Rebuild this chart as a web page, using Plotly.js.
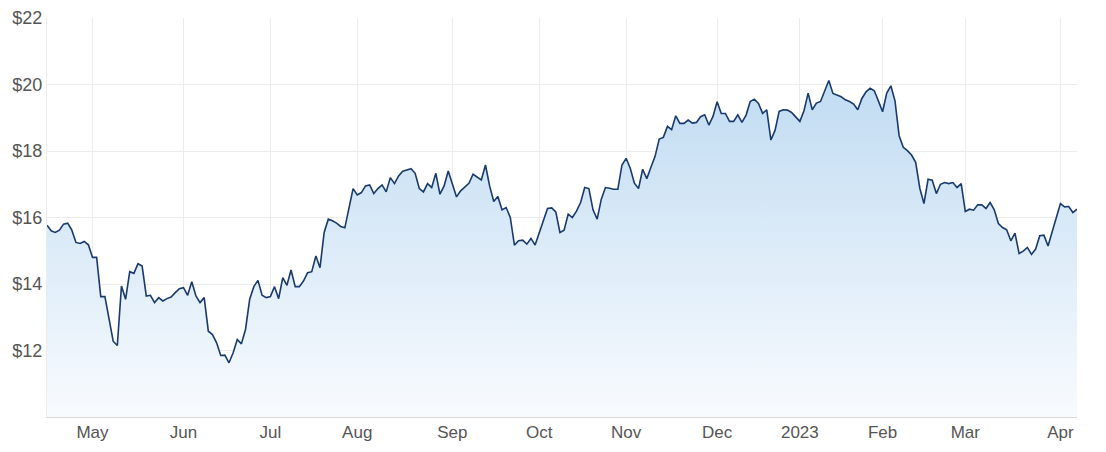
<!DOCTYPE html>
<html>
<head>
<meta charset="utf-8">
<script src="https://cdn.plot.ly/plotly-3.0.1.min.js"></script>
<style>
  html, body { margin: 0; padding: 0; background: #ffffff; }
  #chart { width: 1106px; height: 452px; }
</style>
</head>
<body>
<div id="chart"></div>
<script>
// Trading days (ASX), Apr 2022 - Apr 2023
const dates = [
  '2022-04-12','2022-04-13','2022-04-14','2022-04-19','2022-04-20','2022-04-21','2022-04-22','2022-04-26','2022-04-27','2022-04-28','2022-04-29',
  '2022-05-02','2022-05-03','2022-05-04','2022-05-05','2022-05-06','2022-05-09','2022-05-10','2022-05-11','2022-05-12','2022-05-13','2022-05-16','2022-05-17','2022-05-18','2022-05-19','2022-05-20','2022-05-23','2022-05-24','2022-05-25','2022-05-26','2022-05-27','2022-05-30','2022-05-31',
  '2022-06-01','2022-06-02','2022-06-03','2022-06-06','2022-06-07','2022-06-08','2022-06-09','2022-06-10','2022-06-14','2022-06-15','2022-06-16','2022-06-17','2022-06-20','2022-06-21','2022-06-22','2022-06-23','2022-06-24','2022-06-27','2022-06-28','2022-06-29','2022-06-30',
  '2022-07-01','2022-07-04','2022-07-05','2022-07-06','2022-07-07','2022-07-08','2022-07-11','2022-07-12','2022-07-13','2022-07-14','2022-07-15','2022-07-18','2022-07-19','2022-07-20','2022-07-21','2022-07-22','2022-07-25','2022-07-26','2022-07-27','2022-07-28','2022-07-29',
  '2022-08-01','2022-08-02','2022-08-03','2022-08-04','2022-08-05','2022-08-08','2022-08-09','2022-08-10','2022-08-11','2022-08-12','2022-08-15','2022-08-16','2022-08-17','2022-08-18','2022-08-19','2022-08-22','2022-08-23','2022-08-24','2022-08-25','2022-08-26','2022-08-29','2022-08-30','2022-08-31',
  '2022-09-01','2022-09-02','2022-09-05','2022-09-06','2022-09-07','2022-09-08','2022-09-09','2022-09-12','2022-09-13','2022-09-14','2022-09-15','2022-09-16','2022-09-19','2022-09-20','2022-09-21','2022-09-23','2022-09-26','2022-09-27','2022-09-28','2022-09-29','2022-09-30',
  '2022-10-03','2022-10-04','2022-10-05','2022-10-06','2022-10-07','2022-10-10','2022-10-11','2022-10-12','2022-10-13','2022-10-14','2022-10-17','2022-10-18','2022-10-19','2022-10-20','2022-10-21','2022-10-24','2022-10-25','2022-10-26','2022-10-27','2022-10-28','2022-10-31',
  '2022-11-01','2022-11-02','2022-11-03','2022-11-04','2022-11-07','2022-11-08','2022-11-09','2022-11-10','2022-11-11','2022-11-14','2022-11-15','2022-11-16','2022-11-17','2022-11-18','2022-11-21','2022-11-22','2022-11-23','2022-11-24','2022-11-25','2022-11-28','2022-11-29','2022-11-30',
  '2022-12-01','2022-12-02','2022-12-05','2022-12-06','2022-12-07','2022-12-08','2022-12-09','2022-12-12','2022-12-13','2022-12-14','2022-12-15','2022-12-16','2022-12-19','2022-12-20','2022-12-21','2022-12-22','2022-12-23','2022-12-28','2022-12-29','2022-12-30',
  '2023-01-03','2023-01-04','2023-01-05','2023-01-06','2023-01-09','2023-01-10','2023-01-11','2023-01-12','2023-01-13','2023-01-16','2023-01-17','2023-01-18','2023-01-19','2023-01-20','2023-01-23','2023-01-24','2023-01-25','2023-01-27','2023-01-30','2023-01-31',
  '2023-02-01','2023-02-02','2023-02-03','2023-02-06','2023-02-07','2023-02-08','2023-02-09','2023-02-10','2023-02-13','2023-02-14','2023-02-15','2023-02-16','2023-02-17','2023-02-20','2023-02-21','2023-02-22','2023-02-23','2023-02-24','2023-02-27','2023-02-28',
  '2023-03-01','2023-03-02','2023-03-03','2023-03-06','2023-03-07','2023-03-08','2023-03-09','2023-03-10','2023-03-13','2023-03-14','2023-03-15','2023-03-16','2023-03-17','2023-03-20','2023-03-21','2023-03-22','2023-03-23','2023-03-24','2023-03-27','2023-03-28','2023-03-29','2023-03-30','2023-03-31',
  '2023-04-03','2023-04-04','2023-04-05','2023-04-06','2023-04-11'
];

const prices = [
  15.77,15.60,15.55,15.62,15.80,15.83,15.62,15.25,15.22,15.28,15.18,
  14.80,14.80,13.62,13.62,12.94,12.28,12.15,13.94,13.54,14.37,14.32,14.61,14.54,13.64,13.66,13.44,13.59,13.49,13.56,13.61,13.74,13.86,
  13.89,13.66,14.07,13.64,13.44,13.59,12.58,12.48,12.23,11.85,11.86,11.63,11.93,12.33,12.20,12.64,13.54,13.92,14.11,13.66,13.59,
  13.62,13.92,13.56,14.19,13.96,14.42,13.92,13.92,14.09,14.34,14.37,14.84,14.49,15.55,15.95,15.90,15.83,15.73,15.69,16.28,16.87,
  16.68,16.75,16.95,16.98,16.72,16.87,16.98,16.77,17.20,17.02,17.25,17.39,17.43,17.47,17.33,16.87,16.77,17.02,16.90,17.33,16.70,16.95,17.40,
  16.97,16.62,16.80,16.93,17.03,17.30,17.22,17.13,17.58,16.95,16.48,16.63,16.23,16.30,16.00,15.17,15.30,15.32,15.20,15.37,15.17,
  15.53,15.90,16.27,16.29,16.17,15.55,15.62,16.10,16.00,16.19,16.45,16.90,16.87,16.23,15.95,16.55,16.90,16.88,16.85,16.85,17.58,
  17.78,17.48,17.03,16.87,17.45,17.17,17.51,17.84,18.36,18.41,18.74,18.64,19.06,18.83,18.83,18.93,18.84,18.86,19.03,19.09,18.78,19.04,
  19.48,19.13,19.13,18.89,18.89,19.09,18.86,19.08,19.49,19.56,19.43,19.13,19.24,18.33,18.62,19.19,19.24,19.23,19.16,19.03,
  18.89,19.21,19.74,19.24,19.44,19.49,19.80,20.12,19.73,19.68,19.63,19.54,19.49,19.41,19.24,19.58,19.78,19.89,19.81,19.50,
  19.18,19.74,19.96,19.51,18.46,18.11,18.01,17.88,17.66,16.88,16.42,17.15,17.12,16.72,17.00,17.05,17.02,17.05,16.90,17.02,
  16.18,16.25,16.22,16.38,16.38,16.27,16.45,16.23,15.82,15.70,15.63,15.30,15.53,14.92,14.99,15.10,14.89,15.05,15.45,15.47,15.14,15.57,16.00,
  16.42,16.32,16.33,16.15,16.25
];

const monthTickDates = ['2022-05-02','2022-06-01','2022-07-01','2022-08-01','2022-09-01','2022-10-03','2022-11-01','2022-12-01','2023-01-03','2023-02-01','2023-03-01','2023-04-03'];
const monthTickLabels = ['May','Jun','Jul','Aug','Sep','Oct','Nov','Dec','2023','Feb','Mar','Apr'];
const priceTicks = [12, 14, 16, 18, 20, 22];
const priceTickLabels = ['$12','$14','$16','$18','$20','$22'];

const trace = {
  type: 'scatter',
  mode: 'lines',
  x: dates,
  y: prices,
  line: { color: '#183a6d', width: 1.6 },
  fill: 'tozeroy',
  fillgradient: {
    type: 'vertical',
    start: 10,
    stop: 21,
    colorscale: [[0, '#f8fbfe'], [1, '#bcd9f1']]
  },
  hoverinfo: 'x+y'
};

const xFont = { family: 'Liberation Sans, Arial, sans-serif', size: 17, color: '#555555' };
const yFont = { family: 'Liberation Sans, Arial, sans-serif', size: 18, color: '#555555' };

const layout = {
  width: 1106,
  height: 452,
  margin: { l: 47, r: 29, t: 18, b: 35 },
  paper_bgcolor: '#ffffff',
  plot_bgcolor: '#ffffff',
  showlegend: false,
  font: xFont,
  xaxis: {
    type: 'category',
    range: [0, dates.length - 1],
    tickmode: 'array',
    tickvals: monthTickDates,
    ticktext: monthTickLabels,
    showgrid: true,
    gridcolor: '#ececec',
    gridwidth: 1,
    ticks: '',
    showline: true,
    linecolor: '#dadada',
    linewidth: 1,
    zeroline: false,
    tickfont: xFont,
    fixedrange: true
  },
  yaxis: {
    range: [10, 22],
    tickmode: 'array',
    tickvals: priceTicks,
    ticktext: priceTickLabels,
    showgrid: true,
    gridcolor: '#ececec',
    gridwidth: 1,
    ticks: '',
    showline: true,
    linecolor: '#ececec',
    zeroline: false,
    tickfont: yFont,
    fixedrange: true
  }
};

Plotly.newPlot('chart', [trace], layout, { displayModeBar: false, staticPlot: true });
</script>
</body>
</html>
